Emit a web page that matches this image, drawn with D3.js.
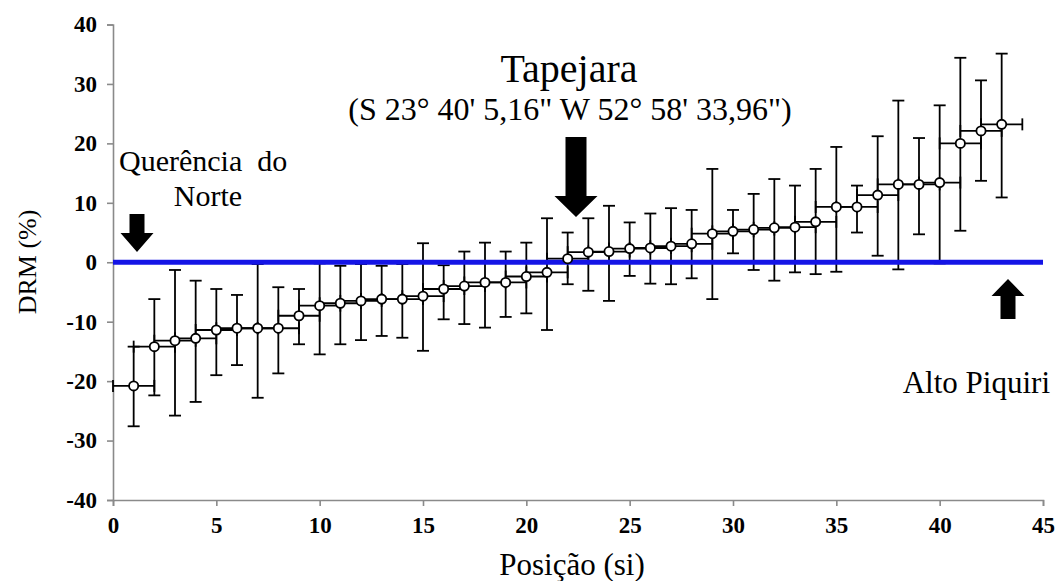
<!DOCTYPE html>
<html><head><meta charset="utf-8">
<script src="https://cdn.jsdelivr.net/npm/d3@7/dist/d3.min.js"></script>
<style>body{margin:0;background:#fff}svg{display:block}text{font-family:"Liberation Serif",Tinos,"Times New Roman",Times,serif;fill:#000}</style>
</head><body><svg id="c" width="1057" height="581"></svg>
<script>
const positions = [1,2,3,4,5,6,7,8,9,10,11,12,13,14,15,16,17,18,19,20,21,22,23,24,25,26,27,28,29,30,31,32,33,34,35,36,37,38,39,40,41,42,43];
const drm = [-20.8,-14.2,-13.2,-12.8,-11.4,-11.1,-11.1,-11.1,-9.0,-7.3,-6.9,-6.5,-6.2,-6.2,-5.7,-4.5,-4.0,-3.4,-3.4,-2.4,-1.7,0.6,1.7,1.8,2.3,2.4,2.7,3.1,4.8,5.2,5.5,5.8,5.9,6.8,9.3,9.3,11.3,13.1,13.1,13.4,20.0,22.1,23.2];
const drmHigh = [-14.2,-6.2,-1.3,-3.1,-4.5,-5.5,-0.3,-4.2,-4.5,-0.2,-0.6,-0.3,-0.6,-0.3,3.2,-0.5,1.8,3.3,1.8,3.3,7.4,5.0,7.4,9.5,6.7,8.2,9.1,8.8,15.7,8.8,11.5,14.0,12.9,15.7,19.4,12.9,21.2,27.2,20.9,26.4,34.4,30.6,35.1];
const drmLow = [-27.6,-22.4,-25.8,-23.5,-19.0,-17.3,-22.8,-18.7,-13.8,-15.5,-13.8,-13.1,-12.4,-12.7,-14.9,-9.6,-10.4,-11.0,-9.2,-8.6,-11.4,-3.7,-4.8,-6.5,-2.3,-3.6,-3.7,-2.7,-6.2,1.5,-1.3,-3.1,-1.7,-2.0,-1.6,5.0,1.1,-1.2,4.7,-0.2,5.3,13.7,10.9];
const posError = 1;
const xTicks = [0,5,10,15,20,25,30,35,40,45];
const yTicks = [-40,-30,-20,-10,0,10,20,30,40];
const referenceValue = 0;

const svg = d3.select("#c");
const x = d3.scaleLinear().domain([0,45]).range([113,1043]);
const y = d3.scaleLinear().domain([-40,40]).range([500,24.5]);
const axisColor = "#8a8a8a";
const serif = '"Liberation Serif",Tinos,"Times New Roman",Times,serif';

const gx = svg.append("g").attr("transform","translate(0,500)")
  .call(d3.axisBottom(x).tickValues(xTicks).tickSize(6).tickPadding(11).tickFormat(d=>String(d)));
const gy = svg.append("g").attr("transform","translate(113,0)")
  .call(d3.axisLeft(y).tickValues(yTicks).tickSize(6).tickPadding(10).tickFormat(d=>String(d)));
[gx,gy].forEach(g=>{
  g.attr("font-family",serif);
  g.select(".domain").attr("stroke",axisColor).attr("stroke-width",1.6);
  g.selectAll(".tick line").attr("stroke",axisColor).attr("stroke-width",1.6);
  g.selectAll(".tick text").style("font-family",serif).attr("font-weight","bold").attr("font-size",23).attr("fill","#000");
});

const data = positions.map((p,i)=>({p, v:drm[i], hi:drmHigh[i], lo:drmLow[i]}));
const g = svg.append("g").attr("stroke","#000").attr("stroke-width",1.8).attr("fill","none");
const cap = 6;
data.forEach(d=>{
  const x0 = x(Math.max(0,d.p-posError)), x1 = x(d.p+posError), yy = y(d.v);
  g.append("line").attr("x1",x0).attr("x2",x1).attr("y1",yy).attr("y2",yy);
  g.append("line").attr("x1",x0).attr("x2",x0).attr("y1",yy-cap).attr("y2",yy+cap);
  g.append("line").attr("x1",x1).attr("x2",x1).attr("y1",yy-cap).attr("y2",yy+cap);
});
data.forEach(d=>{
  const xx = x(d.p);
  g.append("line").attr("x1",xx).attr("x2",xx).attr("y1",y(d.hi)).attr("y2",y(d.lo));
  g.append("line").attr("x1",xx-cap).attr("x2",xx+cap).attr("y1",y(d.hi)).attr("y2",y(d.hi));
  g.append("line").attr("x1",xx-cap).attr("x2",xx+cap).attr("y1",y(d.lo)).attr("y2",y(d.lo));
});
svg.append("line").attr("x1",x(0)).attr("x2",x(45)).attr("y1",y(referenceValue)).attr("y2",y(referenceValue))
  .attr("stroke","#1414e6").attr("stroke-width",5);
svg.append("g").selectAll("circle").data(data).join("circle")
  .attr("cx",d=>x(d.p)).attr("cy",d=>y(d.v)).attr("r",4.6)
  .attr("fill","#fff").attr("stroke","#000").attr("stroke-width",1.8);

function label(t, xx, yy, size, anchor, transform){
  const el = svg.append("text").style("font-family",serif).attr("font-size",size)
    .attr("text-anchor",anchor||"start").text(t);
  if (transform) el.attr("transform",transform); else el.attr("x",xx).attr("y",yy);
  return el;
}
label("DRM (%)",0,0,26,"middle","translate(36,262) rotate(-90)");
label("Posição (si)",572,575,31,"middle");
label("Tapejara",569,82,40,"middle");
label("(S 23° 40' 5,16\" W 52° 58' 33,96\")",570,120,32,"middle");
label("Querência  do",119,171,30,"start").style("white-space","pre");
label("Norte",208,206,30,"middle");
label("Alto Piquiri",1050,393,31,"end");

function arrow(cx, yTail, yTip, shaftW, headW, headL){
  const dir = yTip > yTail ? 1 : -1;
  const yBase = yTip - dir*headL;
  const pts = [[cx-shaftW/2,yTail],[cx+shaftW/2,yTail],[cx+shaftW/2,yBase],[cx+headW/2,yBase],[cx,yTip],[cx-headW/2,yBase],[cx-shaftW/2,yBase]];
  svg.append("path").attr("d",d3.line()(pts)+"Z").attr("fill","#000");
}
arrow(137, 214, 252, 15, 33, 19);
arrow(576, 137, 217, 21, 43, 21);
arrow(1008, 319, 279, 15, 33, 17);
</script></body></html>
